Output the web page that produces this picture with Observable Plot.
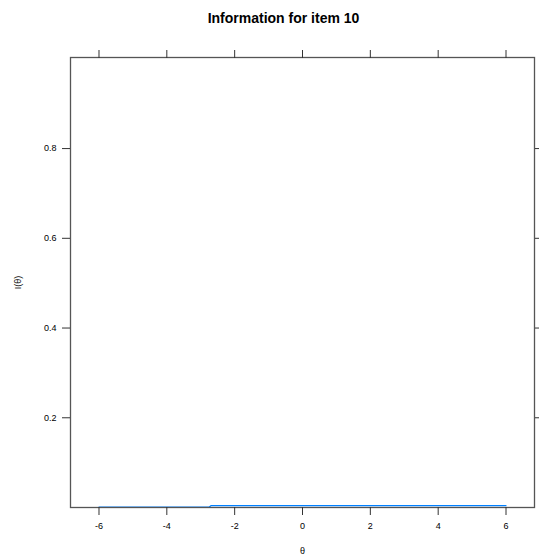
<!DOCTYPE html>
<html>
<head>
<meta charset="utf-8">
<script src="https://cdn.jsdelivr.net/npm/d3@7"></script>
<script src="https://cdn.jsdelivr.net/npm/@observablehq/plot@0.6"></script>
<style>
  html, body { margin: 0; padding: 0; background: #fff; }
  #chart svg { display: block; }
</style>
</head>
<body>
<div id="chart"></div>
<script>
const titleText = ["Information for item 10"];
const xLabel = "θ";
const yLabel = "I(θ)";
const theta = [-6, -5, -4, -3, -2.75, -2.7, -2, -1, 0, 1, 2, 3, 4, 5, 6];
const info  = [0.001, 0.001, 0.001, 0.001, 0.001, 0.004, 0.004, 0.004, 0.004, 0.004, 0.004, 0.004, 0.004, 0.004, 0.004];
const xTicks = [-6, -4, -2, 0, 2, 4, 6];
const yTicks = [0.2, 0.4, 0.6, 0.8];

const data = theta.map((t, i) => ({theta: t, info: info[i]}));

const plot = Plot.plot({
  width: 539,
  height: 560,
  marginLeft: 70,
  marginRight: 5,
  marginTop: 57,
  marginBottom: 53,
  style: {fontFamily: "'Liberation Sans', Arial, sans-serif", fontSize: "9px", color: "#000", background: "#fff"},
  x: {domain: [-6.84, 6.84]},
  y: {domain: [0, 1.003]},
  marks: [
    Plot.line(data, {x: "theta", y: "info", stroke: "#0080ff", strokeWidth: 1.2}),
    Plot.frame({stroke: "#555", strokeWidth: 1.3}),
    Plot.axisX({anchor: "bottom", ticks: xTicks, tickSize: 8, tickPadding: 7, stroke: "#333", tickFormat: d => String(d), label: xLabel, labelAnchor: "center", labelArrow: "none", labelOffset: 46, fontSize: 9}),
    Plot.axisX({anchor: "top", ticks: xTicks, tickSize: 8, stroke: "#333", tickFormat: () => "", label: null}),
    Plot.axisY({anchor: "left", ticks: yTicks, tickSize: 8, tickPadding: 6, stroke: "#333", tickFormat: d => String(d), label: yLabel, labelAnchor: "center", labelArrow: "none", labelOffset: 56, fontSize: 9}),
    Plot.axisY({anchor: "right", ticks: yTicks, tickSize: 8, stroke: "#333", tickFormat: () => "", label: null}),
    Plot.text(titleText, {frameAnchor: "top", dx: -19, dy: -39, lineAnchor: "middle", fontSize: 14, fontWeight: "bold", fill: "#000"})
  ]
});
document.getElementById("chart").appendChild(plot);
</script>
</body>
</html>
